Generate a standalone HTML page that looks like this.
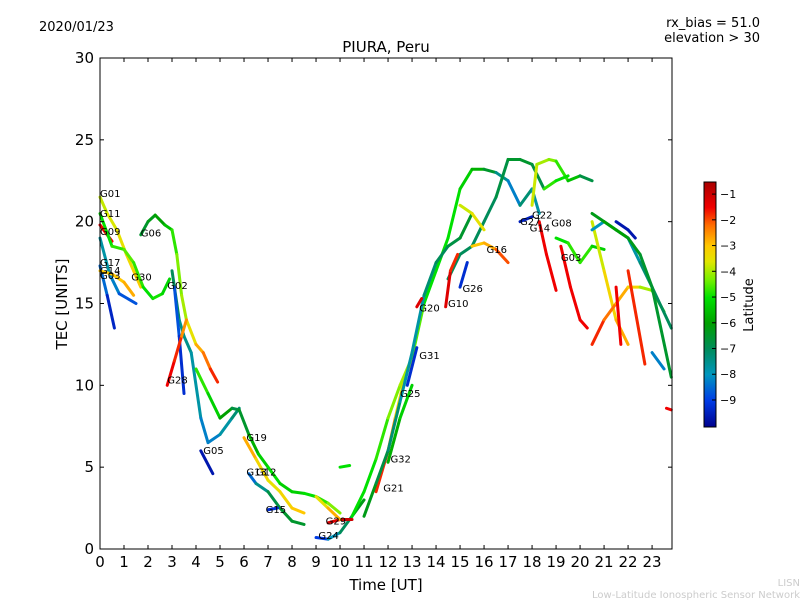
<!DOCTYPE html>
<html><head><meta charset="utf-8">
<style>
body{margin:0;background:#fff;}
svg{display:block;font-family:"DejaVu Sans","Liberation Sans",sans-serif;}
</style></head>
<body>
<svg id="chart" width="800" height="600" viewBox="0 0 800 600">
<rect x="0" y="0" width="800" height="600" fill="#fff"/>
<text x="39" y="31" font-size="13">2020/01/23</text>
<text x="760" y="27" font-size="13" text-anchor="end">rx_bias = 51.0</text>
<text x="760" y="42" font-size="13" text-anchor="end">elevation &gt; 30</text>
<text x="386" y="52" font-size="15" text-anchor="middle">PIURA, Peru</text>
<g id="tracks"></g>
<g id="labels"></g>
<rect x="100" y="58" width="572" height="491" fill="none" stroke="#000" stroke-width="1"/>
<g id="xaxis"></g>
<g id="yaxis"></g>
<text x="386" y="590" font-size="15" text-anchor="middle">Time [UT]</text>
<text x="67" y="304" font-size="15" text-anchor="middle" transform="rotate(-90 67 304)">TEC [UNITS]</text>
<g id="cbar"></g>
<text x="753" y="305" font-size="13" text-anchor="middle" transform="rotate(-90 753 305)">Latitude</text>
<text x="800" y="586" font-size="10" fill="#ccc" text-anchor="end">LISN</text>
<text x="800" y="598" font-size="10" fill="#ccc" text-anchor="end">Low-Latitude Ionospheric Sensor Network</text>
</svg>
<script>
const xTicks=[0,1,2,3,4,5,6,7,8,9,10,11,12,13,14,15,16,17,18,19,20,21,22,23];
const yTicks=[0,5,10,15,20,25,30];
const cbTicks=[-1,-2,-3,-4,-5,-6,-7,-8,-9];
// each track: [time, tec, latitude]
const tracks=[
[[0,21.5,-3.8],[0.3,20.5,-3.8],[0.7,19.5,-3.5],[1.1,18,-3.5],[1.4,17,-3.2],[1.7,16,-3]],
[[0,19.8,-1.5],[0.5,18.8,-1.5]],
[[0,20.5,-5],[0.5,18.5,-5],[1,18.3,-4.5],[1.4,17.5,-4.5],[1.8,16,-5],[2.2,15.3,-5],[2.6,15.6,-4.8],[2.9,16.5,-5.5]],
[[0,19,-7.5],[0.4,16.8,-8],[0.8,15.6,-8.5],[1.5,15,-9]],
[[0,17.3,-8],[0.3,15.5,-9],[0.6,13.5,-9.8]],
[[0,17,-3],[0.5,16.8,-3],[1,16.3,-3],[1.4,15.5,-2.5]],
[[1.7,19.2,-6.5],[2,20,-6.5],[2.3,20.4,-6],[2.7,19.8,-6],[3,19.5,-5],[3.2,18,-4.5],[3.4,15.5,-4],[3.6,14,-4],[4,12.5,-3],[4.3,12,-2.5],[4.6,11,-2],[4.9,10.2,-1.5]],
[[3,17,-6.5],[3.3,14,-7.5],[3.5,13,-7.5],[3.8,12,-7.5],[4.2,8,-8],[4.5,6.5,-8.5],[5,7,-8],[5.5,8,-7.5],[5.8,8.6,-7]],
[[3.1,16,-8.5],[3.3,13,-9],[3.5,9.5,-9.5]],
[[2.8,10,-1.5],[3.1,11.5,-1.5],[3.4,13,-2],[3.6,14,-3]],
[[4,11,-4.5],[4.5,9.5,-5],[5,8,-5.5],[5.5,8.6,-6.5],[5.8,8.5,-7],[6.2,7,-6],[6.6,5.8,-5.5],[7,5,-5],[7.5,4,-5],[8,3.5,-5.5],[8.5,3.4,-5],[9,3.2,-5],[9.5,2.8,-4.5],[10,2.2,-4]],
[[4.2,6,-9.5],[4.7,4.6,-9.8]],
[[6,6.8,-2.5],[6.5,5.5,-3],[7,4.2,-3.5],[7.5,3.5,-3.5],[8,2.5,-3],[8.5,2.2,-3]],
[[6.2,4.6,-9],[6.5,4,-8],[7,3.5,-7],[7.5,2.5,-6.5],[8,1.7,-6.5],[8.5,1.5,-6.5]],
[[7,2.4,-9.5],[7.4,2.5,-9]],
[[9,0.7,-9.5],[9.5,0.6,-8.5],[10,1,-7.5],[10.5,2,-6.5],[11,3,-6]],
[[9.5,1.6,-1.5],[10,1.8,-1],[10.5,1.8,-1]],
[[9,3.2,-4],[9.5,2.5,-3],[10,1.8,-2.5]],
[[10,5,-5],[10.4,5.1,-5]],
[[11.5,3.5,-1.5],[12,6,-2],[12.3,8,-3],[12.7,10.5,-3.5],[13,11.5,-4]],
[[10.5,2,-5],[11,3.5,-5],[11.5,5.5,-5],[12,8,-4.5],[12.5,10,-4],[13,11.7,-4],[13.5,15,-5],[14,17,-5],[14.5,19,-5],[15,22,-5],[15.5,23.2,-5.5],[16,23.2,-6],[16.5,23,-7],[17,22.5,-8],[17.5,21,-8.5]],
[[11,2,-6],[11.5,4,-6.5],[12,6,-7],[12.5,9,-7.5],[13,12,-8],[13.5,15.5,-7.5],[14,17.5,-7],[14.5,18.5,-7],[15,19,-6.5],[15.5,20.5,-6.5]],
[[14.5,16.5,-7],[15,18,-7],[15.5,18.5,-7],[16,20,-7],[16.5,21.5,-7],[17,23.8,-6.5],[17.5,23.8,-6.5],[18,23.5,-6.5],[18.5,22,-7]],
[[12,5.3,-6],[12.5,8,-5.5],[13,10,-5]],
[[12.8,10,-9],[13.2,12.3,-9.5]],
[[13.2,14.8,-1.5],[13.4,15.3,-1]],
[[14.4,14.8,-1],[14.6,17,-1.5],[14.9,18,-2]],
[[15,16,-9.5],[15.3,17.5,-9]],
[[15.5,18.5,-3],[16,18.7,-3],[16.5,18.3,-2.5],[17,17.5,-1.5]],
[[15,21,-4],[15.5,20.5,-3.5],[16,19.5,-3.5]],
[[17.5,20,-9.5],[18,20.3,-9.5]],
[[18.3,20,-1.5],[18.6,18,-1.5],[19,15.8,-1.5]],
[[17.5,21,-7],[18,22,-7.5],[18.3,20.5,-8]],
[[18,21,-3.5],[18.2,23.5,-4],[18.7,23.8,-4],[19,23.7,-4.5],[19.5,22.5,-5],[20,22.8,-6],[20.5,22.5,-7.5]],
[[18.5,22,-4.5],[19,22.5,-5],[19.5,22.8,-5]],
[[19,19,-5],[19.5,18.7,-5],[20,17.5,-4.5],[20.5,18.5,-5],[21,18.3,-5.5]],
[[19.2,18.5,-1.5],[19.6,16,-1.5],[20,14,-1.5],[20.3,13.5,-1.5]],
[[20.5,20,-4],[21,17,-3.5],[21.5,14,-3],[22,12.5,-2.5]],
[[20.5,12.5,-1.5],[21,14,-2],[21.5,15,-2.5],[22,16,-3],[22.5,16,-3.5],[23,15.8,-4.5],[23.5,14.5,-5]],
[[21.5,16,-1.5],[21.7,12.5,-1.5]],
[[22,17,-2],[22.7,11.3,-1.5]],
[[20.5,19.5,-8],[21,20,-8],[21.5,19.5,-8],[22,19,-8],[22.5,17.5,-7.5],[23,16,-7],[23.8,13.5,-7]],
[[20.5,20.5,-6.5],[21,20,-6],[21.5,19.5,-6],[22,19,-6],[22.5,18,-6.5],[23,16,-6.5],[23.8,10.5,-6.5]],
[[21.5,20,-9.5],[22,19.5,-9.8],[22.3,19,-9.5]],
[[23,12,-8],[23.5,11,-8.5]],
[[23.6,8.6,-1.5],[23.8,8.5,-1.5]]
];
const labelNames=["G01","G11","G09","G17","G14","G03","G30","G06","G02","G28","G05","G19","G13","G12","G15","G24","G29","G21","G32","G25","G31","G20","G10","G26","G16","G27","G22","G14","G08","G03"];
const labelT=[0,0,0,0,0,0,1.3,1.7,2.8,2.8,4.3,6.1,6.1,6.5,6.9,9.1,9.4,11.8,12.1,12.5,13.3,13.3,14.5,15.1,16.1,17.5,18,17.9,18.8,19.2];
const labelV=[21.5,20.3,19.2,17.3,16.8,16.5,16.4,19.1,15.9,10.1,5.8,6.6,4.5,4.5,2.2,0.6,1.5,3.5,5.3,9.3,11.6,14.5,14.8,15.7,18.1,19.8,20.2,19.4,19.7,17.6];
const X0=100,X1=672,Y0=549,Y1=58,TMAX=23.83,VMAX=30;
const sx=t=>X0+t/TMAX*(X1-X0);
const sy=v=>Y0-v/VMAX*(Y0-Y1);
const CBT=182,CBB=427,CMAX=-0.53,CMIN=-10.05;
const cy=l=>CBT+(CMAX-l)/(CMAX-CMIN)*(CBB-CBT);
const stops=[[-0.53,[170,0,0]],[-1.5,[240,0,0]],[-2.2,[255,110,0]],[-3,[255,200,0]],[-3.6,[225,230,0]],[-4.3,[120,240,0]],[-5,[0,225,0]],[-6,[0,160,0]],[-7,[0,140,90]],[-8,[0,150,190]],[-9,[0,60,230]],[-10.05,[0,0,140]]];
function latColor(l){
 if(l>=stops[0][0])return 'rgb(170,0,0)';
 for(let i=0;i<stops.length-1;i++){
  const a=stops[i],b=stops[i+1];
  if(l<=a[0]&&l>=b[0]){const f=(a[0]-l)/(a[0]-b[0]);
   const c=a[1].map((v,k)=>Math.round(v+(b[1][k]-v)*f));
   return `rgb(${c[0]},${c[1]},${c[2]})`;}
 }
 return 'rgb(0,0,140)';
}
const NS="http://www.w3.org/2000/svg";
const tg=document.getElementById('tracks');
tracks.forEach((tr,i)=>{
 for(let k=0;k<tr.length-1;k++){
  const a=tr[k],b=tr[k+1];
  const ln=document.createElementNS(NS,'line');
  ln.setAttribute('x1',sx(a[0]));ln.setAttribute('y1',sy(a[1]));
  ln.setAttribute('x2',sx(b[0]));ln.setAttribute('y2',sy(b[1]));
  ln.setAttribute('stroke',latColor((a[2]+b[2])/2));
  ln.setAttribute('stroke-width','3');ln.setAttribute('stroke-linecap','round');
  
  
  tg.appendChild(ln);
 }
});
const lg=document.getElementById('labels');
labelNames.forEach((n,i)=>{
 const t=document.createElementNS(NS,'text');
 t.setAttribute('x',sx(labelT[i]));t.setAttribute('y',sy(labelV[i]));
 t.setAttribute('font-size','10');t.textContent=n;
 
 
 lg.appendChild(t);
});
const xg=document.getElementById('xaxis');
xTicks.forEach(v=>{
 const x=sx(v);
 [[Y0,Y0-4],[Y1,Y1+4]].forEach(p=>{const l=document.createElementNS(NS,'line');
  l.setAttribute('x1',x);l.setAttribute('x2',x);l.setAttribute('y1',p[0]);l.setAttribute('y2',p[1]);l.setAttribute('stroke','#000');
  
  
  xg.appendChild(l);});
 const t=document.createElementNS(NS,'text');
 t.setAttribute('x',x);t.setAttribute('y',Y0+18);t.setAttribute('font-size','15');t.setAttribute('text-anchor','middle');
 t.textContent=v;
 
 
 xg.appendChild(t);
});
const yg=document.getElementById('yaxis');
yTicks.forEach(v=>{
 const y=sy(v);
 [[X0,X0+4],[X1,X1-4]].forEach(p=>{const l=document.createElementNS(NS,'line');
  l.setAttribute('y1',y);l.setAttribute('y2',y);l.setAttribute('x1',p[0]);l.setAttribute('x2',p[1]);l.setAttribute('stroke','#000');
  
  
  yg.appendChild(l);});
 const t=document.createElementNS(NS,'text');
 t.setAttribute('x',X0-6);t.setAttribute('y',y+5);t.setAttribute('font-size','15');t.setAttribute('text-anchor','end');
 t.textContent=v;
 
 
 yg.appendChild(t);
});
const cg=document.getElementById('cbar');
for(let y=CBT;y<CBB;y++){
 const r=document.createElementNS(NS,'rect');
 r.setAttribute('x',704);r.setAttribute('y',y);r.setAttribute('width',12);r.setAttribute('height',1.2);
 r.setAttribute('fill',latColor(CMAX-(y-CBT)/(CBB-CBT)*(CMAX-CMIN)));
 
 
 cg.appendChild(r);
}
const fr=document.createElementNS(NS,'rect');
fr.setAttribute('x',704);fr.setAttribute('y',CBT);fr.setAttribute('width',12);fr.setAttribute('height',CBB-CBT);
fr.setAttribute('fill','none');fr.setAttribute('stroke','#000');


cg.appendChild(fr);
cbTicks.forEach(v=>{
 const y=cy(v);
 const l=document.createElementNS(NS,'line');
 l.setAttribute('x1',712);l.setAttribute('x2',716);l.setAttribute('y1',y);l.setAttribute('y2',y);l.setAttribute('stroke','#000');
 
 
 cg.appendChild(l);
 const t=document.createElementNS(NS,'text');
 t.setAttribute('x',720);t.setAttribute('y',y+4);t.setAttribute('font-size','11');
 t.textContent='\u2212'+Math.abs(v);
 
 
 cg.appendChild(t);
});
</script>
</body></html>
